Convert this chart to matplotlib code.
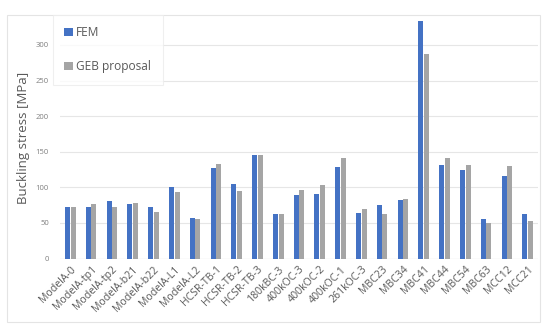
import matplotlib.pyplot as plt
from matplotlib.patches import Rectangle
import numpy as np

plt.rcParams['font.family'] = ['Open Sans', 'DejaVu Sans']

categories = ['ModelA-0', 'ModelA-tp1', 'ModelA-tp2', 'ModelA-b21', 'ModelA-b22',
              'ModelA-L1', 'ModelA-L2', 'HCSR-TB-1', 'HCSR-TB-2', 'HCSR-TB-3',
              '180kBC-3', '400kOC-3', '400kOC-2', '400kOC-1', '261kOC-3',
              'MBC23', 'MBC34', 'MBC41', 'MBC44', 'MBC54', 'MBC63', 'MCC12', 'MCC21']
fem = [73, 72, 81, 77, 72, 100, 57, 127, 104, 146, 63, 89, 90, 129, 64,
       75, 82, 334, 132, 125, 56, 116, 62]
geb = [72, 77, 73, 78, 66, 93, 56, 133, 95, 146, 63, 96, 103, 141, 69,
       63, 84, 287, 141, 131, 50, 130, 53]

blue = '#4472C4'
grey = '#A5A5A5'

fig = plt.figure(figsize=(5.5, 3.31), dpi=100)

# light outer chart frame
fig.patches.append(Rectangle((7 / 550, 1 - 322 / 331), 533 / 550, 307 / 331,
                             transform=fig.transFigure, fill=False,
                             edgecolor='#e4e4e4', linewidth=0.8))

ax = fig.add_axes([60 / 550, 1 - 258.5 / 331, 478 / 550, 242 / 331])
x = np.arange(len(categories))
w = 0.24
ax.bar(x - 0.135, fem, w, color=blue, label='FEM', zorder=3)
ax.bar(x + 0.135, geb, w, color=grey, label='GEB proposal', zorder=3)

ax.set_xlim(-0.5, len(categories) - 0.5)
ax.set_ylim(0, 340)
ax.set_yticks(range(0, 301, 50))
ax.grid(axis='y', color='#e6e6e6', linewidth=0.8, zorder=0)
for s in ax.spines.values():
    s.set_visible(False)
ax.axhline(0, color='#d9d9d9', linewidth=0.8, zorder=1)

ax.set_xticks(x)
ax.set_xticklabels(categories, rotation=45, ha='right', rotation_mode='anchor',
                   fontsize=7.6, color='#595959')
ax.tick_params(axis='x', length=0, pad=4)
ax.tick_params(axis='y', length=0, pad=8, labelsize=5.5, labelcolor='#7f7f7f')

ax.set_ylabel('Buckling stress [MPa]', fontsize=9.5, color='#595959', labelpad=4)

leg = fig.legend(loc='upper left', bbox_to_anchor=(53 / 550, 1 - 15 / 331),
                 borderaxespad=0, frameon=True, fontsize=8.6, handlelength=0.7,
                 handleheight=0.7, labelspacing=1.75, borderpad=0.95,
                 handletextpad=0.3, fancybox=False, labelcolor='#595959')
leg.get_frame().set_edgecolor('#ececec')
leg.get_frame().set_linewidth(0.8)

fig.savefig('out.png', dpi=100)
